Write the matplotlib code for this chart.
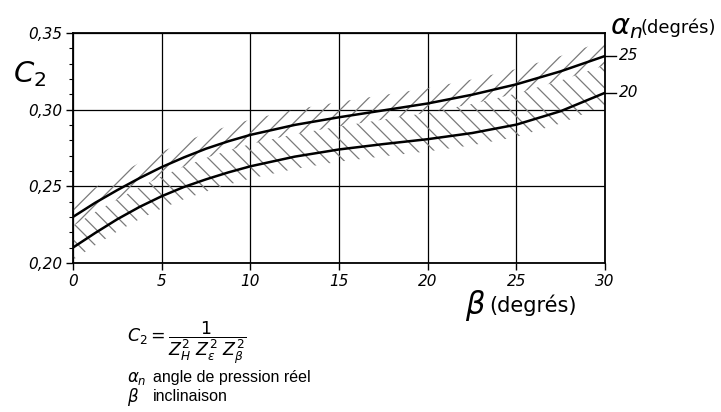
import numpy as np
import matplotlib
matplotlib.use('Agg')
from matplotlib import pyplot as plt

plt.rcParams['font.family'] = ['DejaVu Sans']
plt.rcParams['hatch.linewidth'] = 0.9

beta = [0, 1.25, 2.5, 3.75, 5, 6.25, 7.5, 8.75, 10, 12.5, 15, 17.5, 20, 22.5, 25, 27.5, 30]
c2_alpha25 = [0.2300, 0.2392, 0.2475, 0.2553, 0.2625, 0.2688, 0.2745, 0.2793, 0.2835,
              0.2900, 0.2950, 0.2995, 0.3040, 0.3097, 0.3165, 0.3250, 0.3350]
c2_alpha20 = [0.2100, 0.2195, 0.2285, 0.2365, 0.2435, 0.2495, 0.2545, 0.2590, 0.2630,
              0.2693, 0.2740, 0.2775, 0.2807, 0.2847, 0.2902, 0.2990, 0.3110]
alpha_labels = ['25', '20']
x_ticks = [0, 5, 10, 15, 20, 25, 30]
y_ticks = [0.20, 0.25, 0.30, 0.35]
y_tick_labels = ['0,20', '0,25', '0,30', '0,35']

fig = plt.figure(figsize=(7.21, 4.12), dpi=100)
ax = fig.add_axes([0.1013, 0.362, 0.738, 0.558])

b = np.array(beta)
up = np.array(c2_alpha25)
lo = np.array(c2_alpha20)

# bandes hachurées : "/" autour de la courbe haute, "\" jusqu'à sous la courbe basse
ax.fill_between(b, up - 0.006, up + 0.010, facecolor='none', edgecolor='#7a7a7a',
                linewidth=0, hatch='//', zorder=2)
ax.fill_between(b, lo - 0.008, up - 0.006, facecolor='none', edgecolor='#7a7a7a',
                linewidth=0, hatch='\\\\', zorder=2)

ax.plot(b, up, color='black', lw=1.8, zorder=4)
ax.plot(b, lo, color='black', lw=1.8, zorder=4)

ax.set_xlim(0, 30)
ax.set_ylim(0.20, 0.35)
ax.set_xticks(x_ticks)
ax.set_xticklabels([str(t) for t in x_ticks], style='italic', fontsize=11)
ax.set_yticks(y_ticks)
ax.set_yticklabels(y_tick_labels, style='italic', fontsize=11)
ax.set_yticks(np.arange(0.20, 0.351, 0.01), minor=True)
ax.tick_params(axis='y', which='minor', length=3, width=0.8, direction='out')
ax.tick_params(axis='both', which='major', length=5, width=1.0, direction='out', pad=3)
ax.grid(True, which='major', color='black', lw=0.9)
for s in ax.spines.values():
    s.set_linewidth(1.3)

# étiquettes alpha_n au bout des courbes
for val, lab in zip([up[-1], lo[-1]], alpha_labels):
    ax.plot([30, 30.6], [val, val], color='black', lw=1.0, clip_on=False)
    ax.text(30.8, val, lab, style='italic', fontsize=11, va='center', ha='left')

fig.text(0.018, 0.80, r'$C_2$', fontsize=21)
fig.text(0.846, 0.935, r'$\alpha_n$', fontsize=21, va='center')
fig.text(0.889, 0.932, '(degrés)', fontsize=13, va='center')
fig.text(0.645, 0.258, r'$\beta$', fontsize=22, va='center')
fig.text(0.678, 0.258, '(degrés)', fontsize=15, va='center')

fig.text(0.176, 0.168, r'$C_2 = \dfrac{1}{Z_H^2\ Z_\varepsilon^2\ Z_\beta^2}$', fontsize=12.5,
         va='center')
fig.text(0.176, 0.083, r'$\alpha_n$', fontsize=12, va='center')
fig.text(0.212, 0.083, 'angle de pression réel', fontsize=11.5, family='Liberation Sans',
         va='center')
fig.text(0.176, 0.037, r'$\beta$', fontsize=12, va='center')
fig.text(0.212, 0.037, 'inclinaison', fontsize=11.5, family='Liberation Sans', va='center')

fig.savefig('out.png', dpi=100)
